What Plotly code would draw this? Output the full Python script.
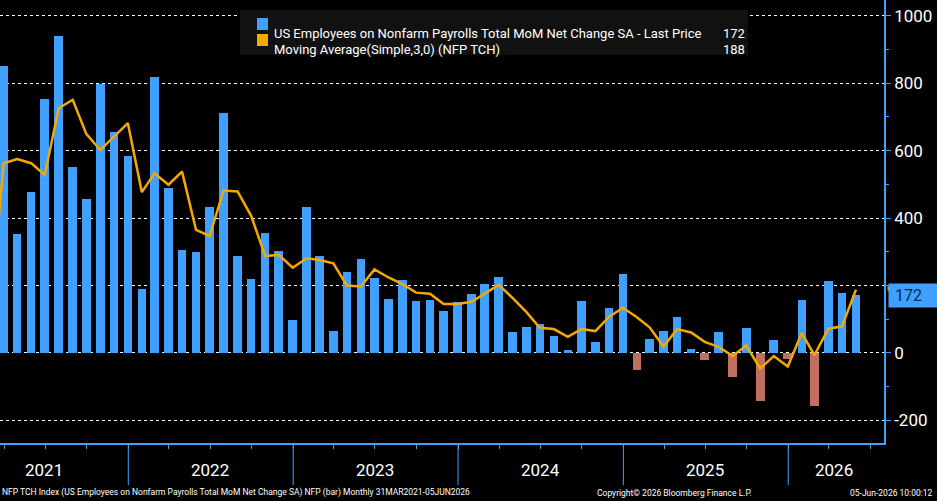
import pandas as pd
import plotly.graph_objects as go

# monthly NFP net change (thousands), Mar 2021 .. May 2026
months = pd.date_range('2021-03-31', '2026-05-31', freq='ME')
nfp = [852, 353, 478, 754, 941, 552, 457, 798, 656, 585, 190, 819,
       490, 306, 300, 433, 712, 288, 220, 356, 303, 98, 433, 288,
       65, 240, 279, 223, 160, 217, 154, 157, 125, 151, 175, 205,
       226, 62, 77, 86, 50, 9, 154, 33, 134, 234, -49, 42,
       65, 107, 12, -20, 62, -70, 74, -141, 39, -18, 157, -156,
       214, 178, 172]
# 3-month simple moving average as drawn (first point includes Feb 2021)
ma_dates = pd.date_range('2021-02-28', '2026-05-31', freq='ME')
ma3 = [90, 563, 575, 563, 528, 726, 751, 650, 602, 642, 682, 477, 533,
       499, 538, 365, 347, 482, 479, 407, 288, 291, 253, 281, 276,
       266, 200, 197, 248, 224, 204, 179, 176, 145, 145, 152, 177,
       202, 164, 122, 75, 71, 48, 71, 65, 107, 134, 106, 76,
       19, 71, 61, 33, 18, -9, 22, -46, -9, -40, 59, -6,
       72, 79, 188]
years = ['2021', '2022', '2023', '2024', '2025', '2026']
year_label_x = ['2021-06-28', '2022-07-01', '2023-07-01', '2024-07-01', '2025-07-01', '2026-04-12']

BLUE = '#3fa0ff'
RED = '#c0705f'
ORANGE = '#f5a800'
FONT = 'Roboto'

fig = go.Figure()
fig.add_trace(go.Bar(x=months, y=nfp, width=86400000 * 19,
                     marker=dict(color=[BLUE if v >= 0 else RED for v in nfp], line=dict(width=0)),
                     name='NFP'))
fig.add_trace(go.Scatter(x=ma_dates, y=ma3, mode='lines', line=dict(color=ORANGE, width=2.5),
                         name='MA'))

fig.update_layout(
    width=937, height=501, paper_bgcolor='black', plot_bgcolor='black',
    margin=dict(l=0, r=53, t=0, b=58, autoexpand=False), showlegend=False, bargap=0,
    font=dict(family=FONT, color='white'),
    xaxis=dict(range=['2021-03-23', '2026-08-01'], showgrid=False, showticklabels=False,
               showline=True, linecolor=BLUE, linewidth=1.5, ticks='outside', ticklen=4,
               tickcolor=BLUE, dtick='M3', tick0='2021-01-01', zeroline=False),
    yaxis=dict(range=[-267, 1047], side='right', tickvals=[-200, 0, 200, 400, 600, 800, 1000],
               ticktext=['-200', '0', '', '400', '600', '800', '1000'],
               showgrid=True, gridcolor='white', griddash='dot', gridwidth=1,
               showline=True, linecolor=BLUE, linewidth=1.5, ticks='outside', ticklen=5,
               tickcolor=BLUE, tickfont=dict(size=17, color='white'), zeroline=False,
               minor=dict(dtick=100, ticks='outside', ticklen=3, tickcolor=BLUE)),
)

# year separators and labels
for yr, lx in zip(years, year_label_x):
    if yr != '2021':
        fig.add_shape(type='line', xref='x', yref='paper', x0=f'{yr}-01-01', x1=f'{yr}-01-01',
                      y0=0, y1=-0.095, line=dict(color=BLUE, width=1))
    fig.add_annotation(x=lx, y=-0.062, xref='x', yref='paper', text=yr, showarrow=False,
                       font=dict(size=17, color='white'), yanchor='middle')

# legend box
fig.add_shape(type='rect', xref='paper', yref='paper', x0=240 / 884, x1=748 / 884,
              y0=1 - 55 / 443, y1=1 - 10 / 443, fillcolor='#111111', line=dict(width=0), layer='above')
fig.add_shape(type='rect', xref='paper', yref='paper', x0=257 / 884, x1=268 / 884,
              y0=1 - 30 / 443, y1=1 - 18 / 443, fillcolor=BLUE, line=dict(width=0), layer='above')
fig.add_shape(type='rect', xref='paper', yref='paper', x0=257 / 884, x1=268 / 884,
              y0=1 - 46 / 443, y1=1 - 34 / 443, fillcolor=ORANGE, line=dict(width=0), layer='above')
fig.add_annotation(xref='paper', yref='paper', x=272 / 884, y=1 - 24 / 443, xanchor='left',
                   text='US Employees on Nonfarm Payrolls Total MoM Net Change SA - Last Price',
                   showarrow=False, font=dict(size=13, color='white'))
fig.add_annotation(xref='paper', yref='paper', x=272 / 884, y=1 - 40 / 443, xanchor='left',
                   text='Moving Average(Simple,3,0) (NFP TCH)',
                   showarrow=False, font=dict(size=13, color='white'))
fig.add_annotation(xref='paper', yref='paper', x=747 / 884, y=1 - 24 / 443, xanchor='right',
                   text=str(nfp[-1]), showarrow=False, font=dict(size=13, color='white'))
fig.add_annotation(xref='paper', yref='paper', x=747 / 884, y=1 - 40 / 443, xanchor='right',
                   text=str(ma3[-1]), showarrow=False, font=dict(size=13, color='white'))

# last value tags on the right axis
fig.add_shape(type='rect', xref='paper', yref='y', x0=1.004, x1=1.06, y0=ma3[-1] - 4, y1=ma3[-1] + 10,
              fillcolor=ORANGE, line=dict(width=0))
fig.add_annotation(xref='paper', yref='y', x=1.004, y=nfp[-1], xanchor='left', text=' ' + str(nfp[-1]) + '    ',
                   showarrow=False, bgcolor=BLUE, font=dict(size=16, color='#0a2a50'), borderpad=2)

# footer
fig.add_annotation(xref='paper', yref='paper', x=0, y=-0.128, xanchor='left', yanchor='bottom',
                   text='NFP TCH Index (US Employees on Nonfarm Payrolls Total MoM Net Change SA) NFP (bar) Monthly 31MAR2021-05JUN2026',
                   showarrow=False, font=dict(size=8.5, color='white'))
fig.add_annotation(xref='paper', yref='paper', x=595 / 884, y=-0.128, xanchor='left', yanchor='bottom',
                   text='Copyright© 2026 Bloomberg Finance L.P.', showarrow=False, font=dict(size=8.5, color='white'))
fig.add_annotation(xref='paper', yref='paper', x=935 / 884, y=-0.128, xanchor='right', yanchor='bottom',
                   text='05-Jun-2026 10:00:12', showarrow=False, font=dict(size=8.5, color='white'))

fig.write_html('out.html', config={'displayModeBar': False},
               post_script="document.body.style.margin='0px';")
